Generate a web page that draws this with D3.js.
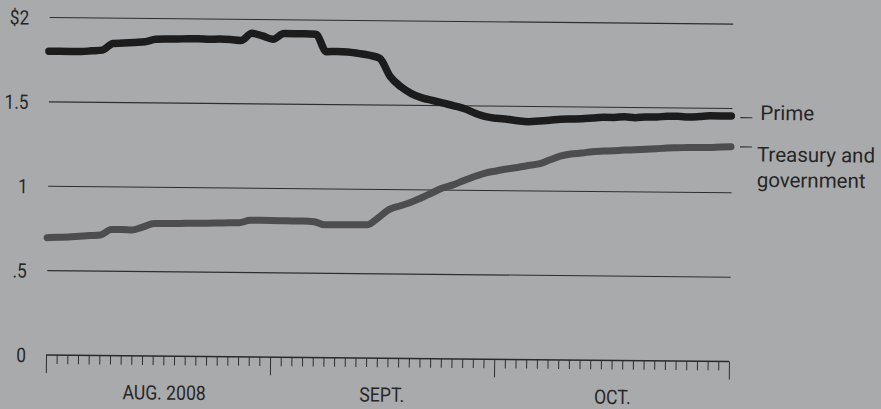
<!DOCTYPE html>
<html><head><meta charset="utf-8">
<script src="https://cdn.jsdelivr.net/npm/d3@7/dist/d3.min.js"></script>
<style>
html,body{margin:0;padding:0;background:#a9aaac;}
svg{display:block}
</style></head><body>
<svg id="chart" width="881" height="409"></svg>
<script>
// business days Aug 1 - Oct 31, 2008 (index 0..64)
const dayIndex = d3.range(65);
const prime = [
  1.80, 1.80, 1.80, 1.80, 1.805, 1.81, 1.85, 1.853, 1.857, 1.862,
  1.877, 1.88, 1.88, 1.882, 1.882, 1.88, 1.882, 1.88, 1.875, 1.918,
  1.903, 1.884, 1.918, 1.918, 1.918, 1.916, 1.813, 1.815, 1.813, 1.805,
  1.795, 1.777, 1.67, 1.61, 1.57, 1.545, 1.53, 1.515, 1.50, 1.483,
  1.457, 1.437, 1.428, 1.423, 1.415, 1.41, 1.415, 1.42, 1.426, 1.428,
  1.43, 1.435, 1.44, 1.44, 1.445, 1.44, 1.445, 1.445, 1.45, 1.45,
  1.447, 1.45, 1.455, 1.455, 1.455
];
const treasury = [
  0.695, 0.698, 0.70, 0.705, 0.71, 0.714, 0.748, 0.748, 0.746, 0.765,
  0.785, 0.786, 0.787, 0.788, 0.789, 0.79, 0.792, 0.794, 0.795, 0.81,
  0.81, 0.81, 0.809, 0.808, 0.808, 0.805, 0.787, 0.788, 0.789, 0.79,
  0.79, 0.832, 0.881, 0.903, 0.924, 0.952, 0.982, 1.012, 1.031, 1.058,
  1.082, 1.103, 1.116, 1.128, 1.138, 1.15, 1.16, 1.184, 1.208, 1.221,
  1.227, 1.236, 1.24, 1.243, 1.247, 1.25, 1.254, 1.257, 1.262, 1.264,
  1.266, 1.267, 1.268, 1.271, 1.273
];
const yTickValues = [0, 0.5, 1, 1.5, 2];
const yTickLabels = ["0", ".5", "1", "1.5", "$2"];
const majorTicks = [0, 21, 42, 64];
const monthLabels = ["AUG. 2008", "SEPT.", "OCT."];
const monthLabelAt = [11.1, 31.5, 53.1];
const primeLabel = ["Prime"];
const treasuryLabel = ["Treasury and", "government"];

const svg = d3.select("#chart");
const font = "Roboto, 'Liberation Sans', sans-serif";
const narrow = 0.86; // condensed look of the original axis type

const x = d3.scaleLinear().domain([0, 64]).range([46, 729]);
const y = d3.scaleLinear().domain([0, 2]).range([355, 17.5]);

// scanned page is tilted slightly
const g = svg.append("g").attr("transform", "rotate(0.55, 46, 355)");

// gridlines
g.append("g").selectAll("line")
  .data(yTickValues.filter(v => v > 0))
  .join("line")
  .attr("x1", x(0) + 0.5).attr("x2", x(64) + 1)
  .attr("y1", d => y(d)).attr("y2", d => y(d))
  .attr("stroke", "#2e2e2e").attr("stroke-width", 1.1);

// y labels
g.append("g").selectAll("text")
  .data(yTickValues)
  .join("text")
  .attr("transform", d => `translate(26,${y(d)}) scale(${narrow},1)`)
  .attr("dy", "0.36em")
  .attr("text-anchor", "end")
  .attr("font-family", font).attr("font-size", 20)
  .attr("fill", "#262626")
  .text((d, i) => yTickLabels[i]);

// x axis
const xAxis = d3.axisBottom(x)
  .tickValues(dayIndex)
  .tickSize(9)
  .tickFormat("");
const ax = g.append("g").attr("transform", `translate(0,${y(0)})`).call(xAxis);
ax.select(".domain").remove();
ax.append("line").attr("x1", x(0)).attr("x2", x(64)).attr("y1", 0).attr("y2", 0)
  .attr("stroke", "#2a2a2a").attr("stroke-width", 1.4);
ax.selectAll(".tick line")
  .attr("stroke", "#2e2e2e").attr("stroke-width", 1)
  .attr("y2", d => majorTicks.includes(d) ? 18 : 9);

// month labels
g.append("g").selectAll("text")
  .data(monthLabels)
  .join("text")
  .attr("transform", (d, i) => `translate(${x(monthLabelAt[i])},${y(0) + 43.5}) scale(${narrow + 0.02},1)`)
  .attr("text-anchor", "middle")
  .attr("font-family", font).attr("font-size", 20)
  .attr("fill", "#262626")
  .text(d => d);

// lines
const line = d3.line()
  .x((d, i) => x(dayIndex[i]))
  .y(d => y(d))
  .curve(d3.curveMonotoneX);

g.append("path").datum(treasury)
  .attr("d", line).attr("fill", "none")
  .attr("stroke", "#4d4d4f").attr("stroke-width", 7)
  .attr("stroke-linecap", "round").attr("stroke-linejoin", "round");

g.append("path").datum(prime)
  .attr("d", line).attr("fill", "none")
  .attr("stroke", "#1c1c1c").attr("stroke-width", 7.5)
  .attr("stroke-linecap", "round").attr("stroke-linejoin", "round");

// leader dashes and labels
const primeEnd = y(prime[prime.length - 1]);
const trEnd = y(treasury[treasury.length - 1]);

g.append("line").attr("x1", x(64) + 9).attr("x2", x(64) + 21)
  .attr("y1", primeEnd + 1.5).attr("y2", primeEnd + 1.5)
  .attr("stroke", "#333").attr("stroke-width", 1.1);
g.append("line").attr("x1", x(64) + 9).attr("x2", x(64) + 21)
  .attr("y1", trEnd).attr("y2", trEnd)
  .attr("stroke", "#333").attr("stroke-width", 1.1);

g.append("text")
  .attr("x", x(64) + 29).attr("y", primeEnd + 3.6)
  .attr("font-family", font).attr("font-size", 20.5)
  .attr("fill", "#262626")
  .text(primeLabel[0]);

const tt = g.append("text")
  .attr("font-family", font).attr("font-size", 20.5)
  .attr("fill", "#262626");
tt.selectAll("tspan").data(treasuryLabel).join("tspan")
  .attr("x", x(64) + 26)
  .attr("y", (d, i) => trEnd + 14.5 + i * 25.5)
  .text(d => d);
</script>
</body></html>
